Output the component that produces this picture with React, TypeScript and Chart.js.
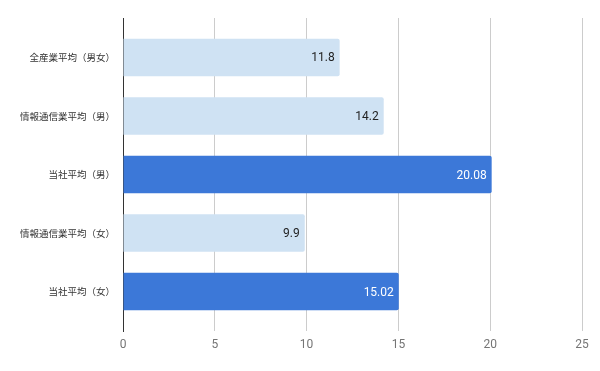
import React, { useEffect, useRef } from "react";
import { Chart, registerables } from "chart.js";

Chart.register(...registerables);

const categories = [
  "全産業平均（男女）",
  "情報通信業平均（男）",
  "当社平均（男）",
  "情報通信業平均（女）",
  "当社平均（女）",
];
const values = [11.8, 14.2, 20.08, 9.9, 15.02];
const valueLabels = ["11.8", "14.2", "20.08", "9.9", "15.02"];
const highlight = [false, false, true, false, true];
const xTicks = [0, 5, 10, 15, 20, 25];

const LIGHT = "#cfe2f3";
const DARK = "#3c78d8";

const labelPlugin = {
  id: "barValueLabels",
  afterDatasetsDraw(chart: any) {
    const ctx = chart.ctx;
    const meta = chart.getDatasetMeta(0);
    ctx.save();
    ctx.font = "12px Roboto";
    ctx.textAlign = "right";
    ctx.textBaseline = "middle";
    meta.data.forEach((bar: any, i: number) => {
      ctx.fillStyle = highlight[i] ? "#ffffff" : "#222222";
      ctx.fillText(valueLabels[i], bar.x - 5, bar.y + 1);
    });
    ctx.restore();
  },
};

export default function App() {
  const ref = useRef<HTMLCanvasElement>(null);
  useEffect(() => {
    if (!ref.current) return;
    const chart = new Chart(ref.current, {
      type: "bar",
      data: {
        datasets: [
          {
            data: values.map((v, i) => ({ x: v, y: i })),
            backgroundColor: highlight.map((h) => (h ? DARK : LIGHT)),
            borderRadius: 2,
            borderSkipped: "start",
            categoryPercentage: 1,
            barPercentage: 0.64,
          } as any,
        ],
      },
      options: {
        indexAxis: "y",
        animation: false,
        responsive: false,
        maintainAspectRatio: false,
        layout: { padding: { top: 18, right: 18, left: 0, bottom: 0 } },
        plugins: { legend: { display: false }, tooltip: { enabled: false } },
        scales: {
          x: {
            type: "linear",
            min: 0,
            max: 25,
            afterBuildTicks: (scale: any) => {
              scale.ticks = xTicks.map((v) => ({ value: v }));
            },
            afterFit: (scale: any) => {
              scale.height = 40;
            },
            grid: { color: "#cccccc", drawTicks: false, lineWidth: 1 },
            border: { display: false },
            ticks: {
              padding: 7,
              color: "#757575",
              font: { family: "Roboto", size: 12 },
            },
          },
          y: {
            type: "linear",
            reverse: true,
            offset: false,
            min: -0.673,
            max: 4.673,
            afterBuildTicks: (scale: any) => {
              scale.ticks = categories.map((_, i) => ({ value: i }));
            },
            afterFit: (scale: any) => {
              scale.width = 123;
            },
            grid: { display: false, drawTicks: false },
            border: { display: true, color: "#333333", width: 1 },
            ticks: {
              padding: 8,
              autoSkip: false,
              color: "#333333",
              font: { family: "'Noto Sans CJK JP'", size: 9.5 },
              callback: (v: any) => categories[Math.round(Number(v))] ?? "",
            },
          },
        },
      },
      plugins: [labelPlugin],
    });
    return () => chart.destroy();
  }, []);
  return (
    <div style={{ position: "absolute", left: 0, top: 0, width: 600, height: 371, background: "#fff" }}>
      <canvas ref={ref} width={600} height={371} style={{ width: 600, height: 371, display: "block" }} />
    </div>
  );
}
